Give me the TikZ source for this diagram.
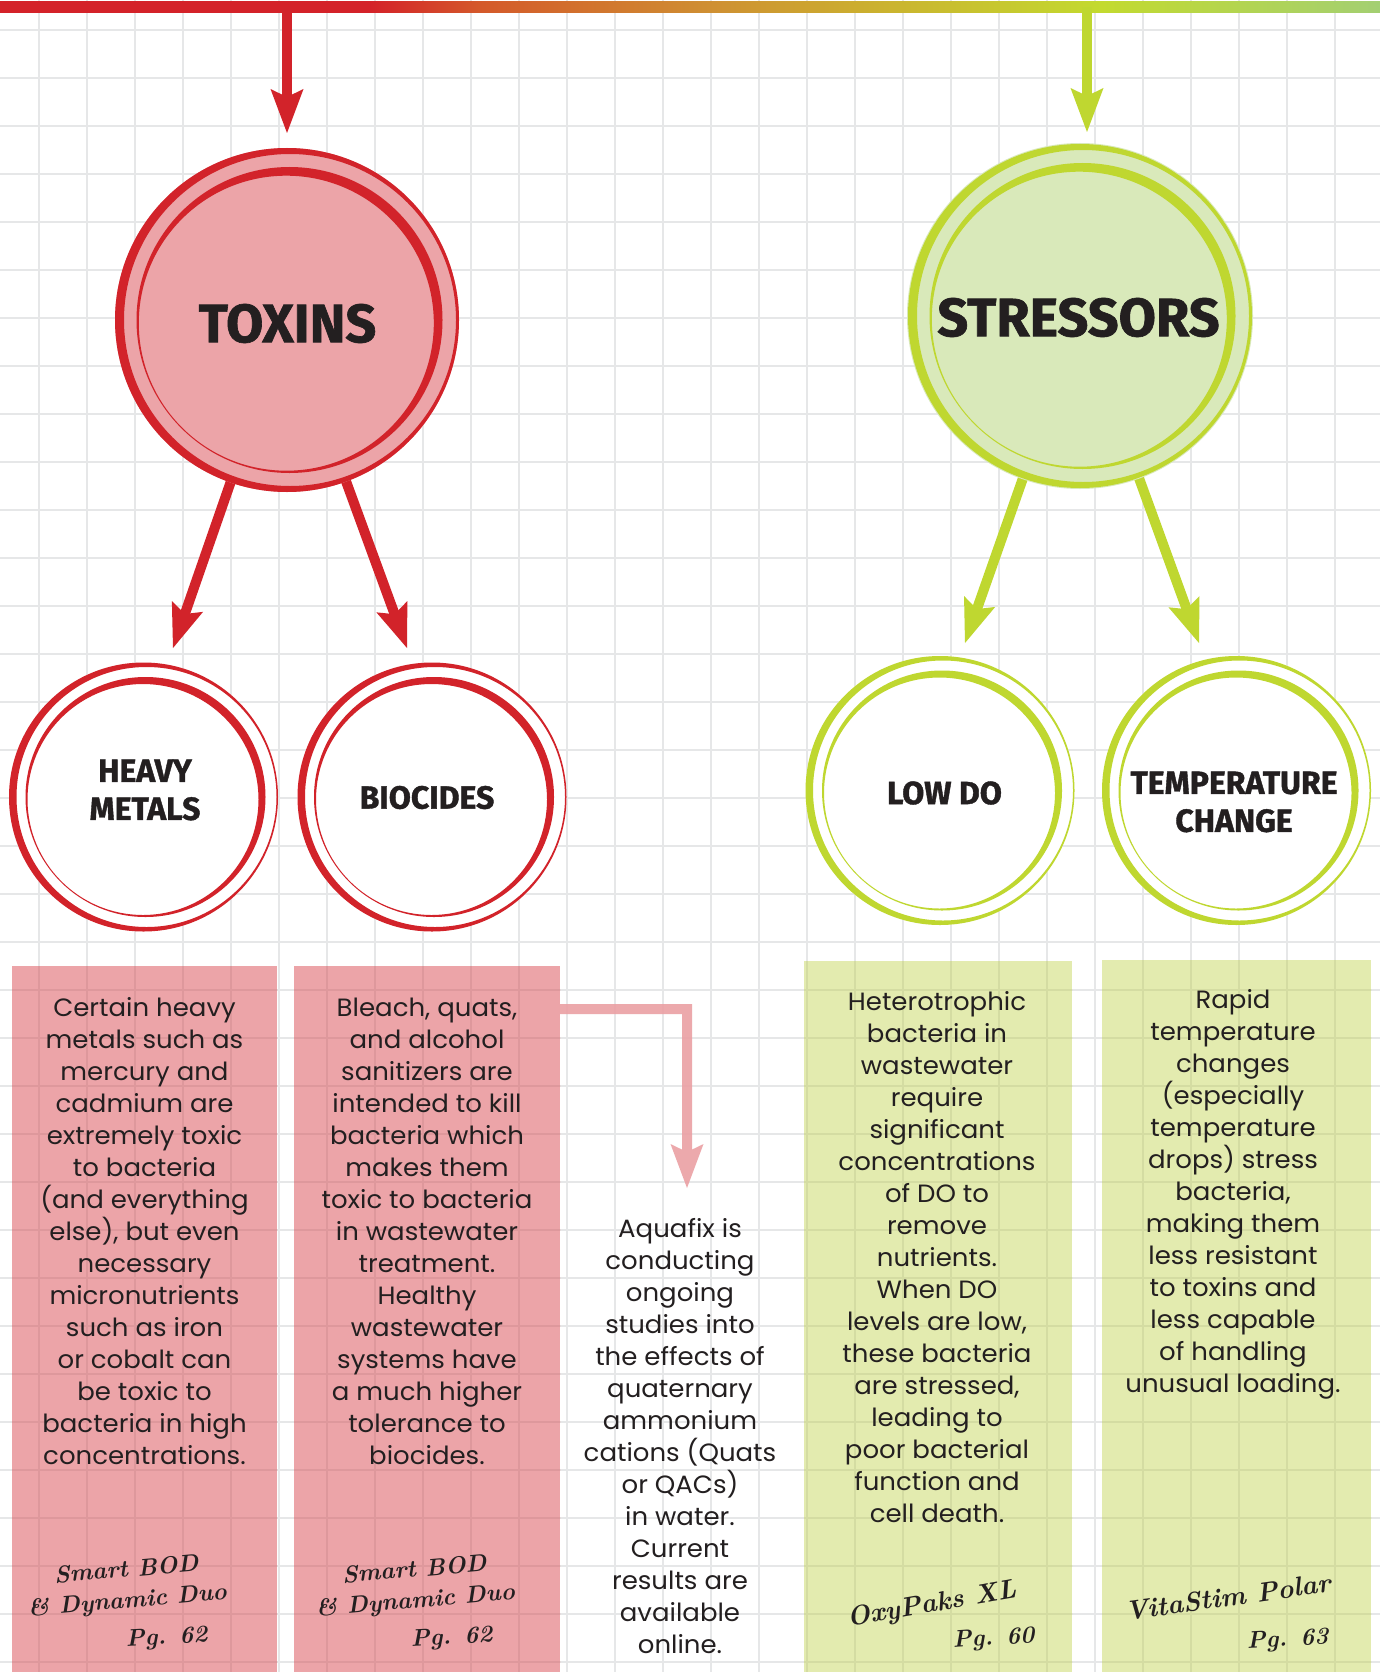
\documentclass[tikz,border=0pt]{standalone}
\usepackage{fontspec}
\usetikzlibrary{arrows.meta,calc}
\newfontfamily\bodyfont[FakeStretch=1.04]{Poppins}
\newfontfamily\headfont[BoldFeatures={FakeBold=1.2}]{Fira Sans}
\definecolor{redc}{HTML}{D2232A}
\definecolor{pinkfill}{HTML}{ECA4A8}
\definecolor{redgrid}{HTML}{DE989C}
\definecolor{greenc}{HTML}{BFD730}
\definecolor{stressfill}{HTML}{D9E9BA}
\definecolor{greenbox}{HTML}{E3EBAF}
\definecolor{greengrid}{HTML}{D4DCA2}
\definecolor{gridc}{HTML}{E6E7E8}
\definecolor{textc}{HTML}{231F20}
\definecolor{barred}{HTML}{D42229}
\definecolor{barorange}{HTML}{D45A2A}
\definecolor{bartan}{HTML}{CF8E32}
\definecolor{barochre}{HTML}{CBB22F}
\definecolor{baryg}{HTML}{C3DA2F}
\definecolor{bargreen}{HTML}{A3CF72}
\definecolor{aqarrow}{HTML}{EBA0A4}
\pgfdeclarehorizontalshading{topbar}{100bp}{color(0bp)=(barred); color(38.4bp)=(barred); color(42.5bp)=(barorange); color(50.5bp)=(bartan); color(56.9bp)=(barochre); color(64.9bp)=(baryg); color(75bp)=(bargreen); color(100bp)=(bargreen)}
\pgfdeclarelayer{gridl}
\pgfdeclarelayer{arrl}
\pgfsetlayers{gridl,arrl,main}
\newcommand\gridlines[1]{%
  \foreach \i in {0,...,27} \draw[#1, line width=2.4pt] ({38.7+48*\i},0) -- ({38.7+48*\i},1672);
  \foreach \j in {0,...,34} \draw[#1, line width=2.4pt] (0,{30+48*\j}) -- (1380,{30+48*\j});
}
\newcommand\bigrings[2]{%
  \fill[#2, even odd rule] (#1.center) circle[radius=172] ($(#1.center)+(3,0)$) circle[radius=166];
  \fill[#2, even odd rule] ($(#1.center)+(2.5,0)$) circle[radius=153] ($(#1.center)+(-0.7,3.2)$) circle[radius=147.5];
}
\newcommand\smallrings[2]{%
  \fill[#2, even odd rule] (#1.center) circle[radius=134.5] ($(#1.center)+(3,0)$) circle[radius=130];
  \fill[#2, even odd rule] ($(#1.center)+(2,0)$) circle[radius=120] ($(#1.center)+(-0.5,2.5)$) circle[radius=115.5];
}
\tikzset{
  bigcirc/.style={circle, draw=none, minimum size=344, inner sep=0, outer sep=0},
  smallcirc/.style={circle, draw=none, fill=white, minimum size=269, inner sep=0, outer sep=0},
  headtxt/.style={inner sep=0, text=textc, font=\headfont\bfseries\fontsize{#1}{#1}\selectfont},
  subtxt/.style={inner sep=0, text=textc, align=center, font=\headfont\bfseries\fontsize{32}{38}\selectfont},
  bodytext/.style={inner sep=0, anchor=north, align=center, text=textc, font=\bodyfont\fontsize{25}{32}\selectfont},
  hand/.style={inner sep=0, anchor=base, text=textc, font=\rmfamily\bfseries\itshape\fontsize{#1}{#1}\selectfont},
  boxnode/.style={rectangle, draw=none, inner sep=0, outer sep=0, anchor=north west},
  tipstyle/.style={-{Stealth[length=44pt,width=33pt,inset=8pt,line width=0pt]}},
  redarrow/.style={draw=redc, line width=10pt, tipstyle},
  greenarrow/.style={draw=greenc, line width=10pt, tipstyle},
}
\begin{document}
\begin{tikzpicture}[x=1pt,y=-1pt]
\useasboundingbox (0,0) rectangle (1380,1672);
\begin{pgfonlayer}{gridl}
  \fill[white] (0,0) rectangle (1380,1672);
  \gridlines{gridc}
\end{pgfonlayer}

% main circles
\node[bigcirc, fill=pinkfill] (toxins) at (287,320) {};
\bigrings{toxins}{redc}
\node[headtxt=54] (toxlabel) at (287.5,323.5) {TOXINS};

\node[bigcirc, fill=stressfill, minimum size=346] (stressors) at (1080,316) {};
\bigrings{stressors}{greenc}
\node[headtxt=54] (stresslabel) at (1078.5,317.5) {STRESSORS};

% sub circles
\node[smallcirc] (heavy) at (143.5,797) {};
\smallrings{heavy}{redc}
\node[subtxt] (heavylabel) at (145,790) {HEAVY\\METALS};
\node[smallcirc] (biocides) at (432,797) {};
\smallrings{biocides}{redc}
\node[subtxt] (biolabel) at (427,797.5) {BIOCIDES};
\node[smallcirc] (lowdo) at (940,790.5) {};
\smallrings{lowdo}{greenc}
\node[subtxt] (lowdolabel) at (944.5,793) {LOW DO};
\node[smallcirc] (temp) at (1236.5,790.5) {};
\smallrings{temp}{greenc}
\node[subtxt] (templabel) at (1234,802) {TEMPERATURE\\CHANGE};

% arrows (under the circles)
\coordinate (ttip) at (287,133);
\coordinate (stip) at (1087,132);
\coordinate (htip) at (173,648);
\coordinate (btip) at (407,648);
\coordinate (ltip) at (965,643);
\coordinate (ctip) at (1199,643);
\begin{pgfonlayer}{arrl}
  \node[shade, shading=topbar, rectangle, minimum width=1380, minimum height=11, inner sep=0, outer sep=0, anchor=north west] (bar) at (0,2) {};
  \draw[redarrow] (ttip |- bar.center) -- (ttip);
  \draw[greenarrow] (stip |- bar.center) -- (stip);
  \draw[redarrow] (toxins.center) -- (htip);
  \draw[redarrow] (toxins.center) -- (btip);
  \draw[greenarrow] (stressors.center) -- (ltip);
  \draw[greenarrow] (stressors.center) -- (ctip);
\end{pgfonlayer}

% boxes
\node[boxnode, fill=pinkfill, minimum width=265, minimum height=706] (box1) at (12,966) {};
\node[boxnode, fill=pinkfill, minimum width=266, minimum height=706] (box2) at (294,966) {};
\node[boxnode, fill=greenbox, minimum width=268, minimum height=711] (box3) at (804,961) {};
\node[boxnode, fill=greenbox, minimum width=269, minimum height=712] (box4) at (1102,960) {};
\begin{scope}\clip (box1.south west) rectangle (box1.north east); \gridlines{redgrid}\end{scope}
\begin{scope}\clip (box2.south west) rectangle (box2.north east); \gridlines{redgrid}\end{scope}
\begin{scope}\clip (box3.south west) rectangle (box3.north east); \gridlines{greengrid}\end{scope}
\begin{scope}\clip (box4.south west) rectangle (box4.north east); \gridlines{greengrid}\end{scope}

% pink arrow
\coordinate (aqtip) at (687,1188);
\begin{scope}[transparency group, opacity=0.9]
  \draw[draw=aqarrow, line width=10pt, tipstyle] ($(box2.north east)+(0,43)$) -| (aqtip);
\end{scope}

% body texts
\node[bodytext] (t1) at (144.5,996) {\rule{0pt}{20pt}Certain heavy\\metals such as\\mercury and\\cadmium are\\extremely toxic\\to bacteria\\(and everything\\else), but even\\necessary\\micronutrients\\such as iron\\or cobalt can\\be toxic to\\bacteria in high\\concentrations.};
\node[bodytext] (t2) at (427,996) {\rule{0pt}{20pt}Bleach, quats,\\and alcohol\\sanitizers are\\intended to kill\\bacteria which\\makes them\\toxic to bacteria\\in wastewater\\treatment.\\Healthy\\wastewater\\systems have\\a much higher\\tolerance to\\biocides.};
\node[bodytext] (t3) at (680,1217) {\rule{0pt}{20pt}Aquafix is\\conducting\\ongoing\\studies into\\the effects of\\quaternary\\ammonium\\cations (Quats\\or QACs)\\in water.\\Current\\results are\\available\\online.};
\node[bodytext] (t4) at (937,990) {\rule{0pt}{20pt}Heterotrophic\\bacteria in\\wastewater\\require\\significant\\concentrations\\of DO to\\remove\\nutrients.\\When DO\\levels are low,\\these bacteria\\are stressed,\\leading to\\poor bacterial\\function and\\cell death.};
\node[bodytext] (t5) at (1233,988) {\rule{0pt}{20pt}Rapid\\temperature\\changes\\(especially\\temperature\\drops) stress\\bacteria,\\making them\\less resistant\\to toxins and\\less capable\\of handling\\unusual loading.};

% handwritten product references
\node[hand=24, rotate=5] (h1a) at (127,1577) {Smart BOD};
\node[hand=24, rotate=5] (h1b) at (128,1608) {\& Dynamic Duo};
\node[hand=24, rotate=3] (h1c) at (167,1644) {Pg. 62};
\node[hand=24, rotate=5] (h2a) at (415,1577) {Smart BOD};
\node[hand=24, rotate=5] (h2b) at (416,1608) {\& Dynamic Duo};
\node[hand=24, rotate=3] (h2c) at (452,1644) {Pg. 62};
\node[hand=27, rotate=10] (h3a) at (933,1612) {OxyPaks XL};
\node[hand=24, rotate=4] (h3b) at (994,1645) {Pg. 60};
\node[hand=27, rotate=8] (h4a) at (1229,1606) {VitaStim Polar};
\node[hand=24, rotate=3] (h4b) at (1288,1646) {Pg. 63};
\end{tikzpicture}
\end{document}
